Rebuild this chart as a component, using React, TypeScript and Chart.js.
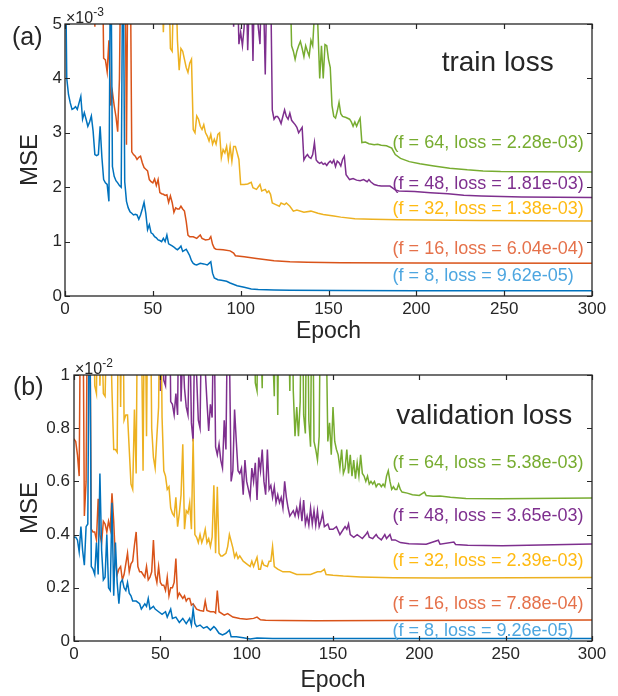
import React, { useEffect, useRef } from "react";
import { Chart, registerables } from "chart.js";

Chart.register(...registerables);

// ---------- data ----------
const FILTERS = [8, 16, 32, 48, 64];
const X_TICKS = [0, 50, 100, 150, 200, 250, 300];
const TRAIN_Y_TICKS = [0, 1, 2, 3, 4, 5];
const VAL_Y_TICKS = [0, 0.2, 0.4, 0.6, 0.8, 1];
const TRAIN_FINAL = ["9.62e-05", "6.04e-04", "1.38e-03", "1.81e-03", "2.28e-03"];
const VAL_FINAL = ["9.26e-05", "7.88e-04", "2.39e-03", "3.65e-03", "5.38e-03"];

// train loss, [epoch, MSE x 1e-3]
const trainF8: number[][] = [[0,7],[1,4.0],[2,3.7],[3,3.55],[4,3.43],[5,3.45],[6,3.48],[7,3.43],[8,3.55],[9,3.67],[10,3.25],[11,3.37],[12,3.25],[13,3.12],[14,3.2],[15,3.31],[16,3.03],[17,2.6],[18,2.58],[19,2.6],[20,3.12],[21,2.55],[22,2.14],[23,2.08],[24,2.05],[25,1.74],[26,7],[27,2.38],[28,2.2],[29,2.12],[30,2.08],[31,2.03],[32,2.0],[33,7],[34,2.1],[35,1.74],[36,1.62],[37,1.55],[38,1.52],[39,1.49],[40,1.5],[41,1.49],[42,1.41],[43,1.49],[44,1.6],[45,1.72],[46,1.52],[47,1.22],[48,1.31],[49,1.16],[50,1.14],[51,1.09],[52,1.07],[53,1.03],[54,1.02],[55,1.0],[56,1.06],[57,1.0],[58,1.12],[59,0.96],[60,0.94],[61,0.92],[62,0.9],[63,0.87],[64,0.85],[65,0.88],[66,0.92],[67,0.82],[68,0.84],[69,0.86],[70,0.8],[71,0.74],[72,0.65],[73,0.6],[74,0.58],[75,0.57],[77,0.6],[79,0.59],[81,0.57],[82,0.6],[83,0.63],[84,0.42],[85,0.33],[87,0.3],[89,0.29],[92,0.27],[94,0.24],[98,0.19],[102,0.16],[106,0.13],[110,0.12],[119,0.11],[128,0.105],[157,0.1],[200,0.098],[300,0.0962]];
const trainF16: number[][] = [[0,9],[16,7],[17,4.95],[18,7],[21,7],[22,4.37],[23,4.34],[24,4.12],[25,4.7],[26,3.5],[27,3.75],[28,3.5],[29,3.3],[30,3.02],[31,4.0],[32,7],[34,7],[35,2.78],[36,7],[37,7],[38,2.65],[39,2.6],[40,2.57],[41,2.51],[42,2.55],[43,2.57],[44,2.45],[45,2.36],[46,2.33],[47,2.3],[48,2.14],[49,2.1],[50,2.08],[51,2.15],[52,2.03],[53,2.14],[54,1.9],[55,1.88],[56,1.87],[57,1.85],[58,1.86],[59,1.72],[60,1.84],[61,1.72],[62,1.54],[63,1.62],[64,1.6],[65,1.6],[66,1.65],[67,1.6],[68,1.56],[69,1.37],[70,1.12],[71,1.09],[73,1.09],[75,1.06],[77,1.12],[78,1.06],[80,1.03],[82,1.04],[83,1.09],[84,0.95],[85,0.88],[86,0.86],[90,0.85],[94,0.83],[96,0.79],[97,0.74],[102,0.72],[109,0.69],[119,0.65],[128,0.63],[138,0.62],[157,0.61],[200,0.606],[300,0.604]];
const trainF32: number[][] = [[0,12],[55,6],[56,4.85],[57,6],[59,6],[60,4.55],[61,4.5],[62,6],[63,6],[64,4.7],[65,4.15],[66,4.55],[67,4.5],[68,4.35],[69,4.2],[70,4.11],[71,4.28],[72,4.35],[73,3.06],[74,3.0],[75,3.31],[76,3.25],[77,3.12],[78,3.06],[79,3.15],[80,3.0],[81,2.94],[82,2.85],[83,2.97],[84,2.79],[85,2.88],[86,2.79],[87,2.97],[88,3.0],[89,2.54],[90,2.69],[91,2.63],[92,2.75],[93,2.51],[94,2.75],[95,2.48],[96,2.75],[97,2.75],[98,2.63],[99,2.51],[100,2.05],[102,2.05],[104,2.06],[106,2.09],[107,1.99],[109,1.96],[111,2.05],[112,1.93],[114,1.96],[115,1.9],[116,1.93],[117,1.87],[118,1.71],[120,1.68],[122,1.65],[123,1.71],[125,1.68],[126,1.71],[128,1.65],[130,1.56],[132,1.58],[136,1.54],[140,1.56],[144,1.52],[147,1.5],[153,1.47],[157,1.45],[165,1.42],[175,1.41],[190,1.4],[236,1.39],[300,1.38]];
const trainF48: number[][] = [[0,15],[95,6],[96,4.95],[97,6],[98,6],[99,4.63],[100,4.85],[101,4.6],[102,4.95],[103,6],[104,4.52],[105,5.5],[106,6],[107,4.32],[108,6],[109,5.5],[110,4.95],[111,4.63],[112,6],[113,5.5],[114,4.07],[115,6],[117,6],[118,3.42],[119,3.25],[120,3.3],[121,3.3],[122,3.25],[123,3.17],[124,3.3],[125,3.42],[126,3.3],[127,3.25],[128,3.36],[129,3.23],[130,3.19],[131,3.15],[132,3.1],[133,3.0],[134,3.05],[135,3.1],[136,2.5],[137,2.56],[138,2.6],[139,2.55],[140,2.53],[141,2.6],[142,2.82],[143,2.5],[144,2.46],[145,2.44],[146,2.46],[147,2.42],[148,2.44],[149,2.4],[150,2.45],[151,2.48],[152,2.44],[153,2.5],[154,2.38],[155,2.48],[156,2.45],[157,2.39],[158,2.51],[159,2.57],[160,2.23],[162,2.14],[164,2.16],[166,2.13],[168,2.12],[170,2.14],[172,2.1],[173,2.14],[174,2.1],[176,2.05],[178,2.03],[180,2.02],[185,2.02],[188,1.95],[190,1.93],[199,1.92],[208,1.9],[218,1.88],[227,1.85],[237,1.84],[260,1.82],[300,1.81]];
const trainF64: number[][] = [[0,20],[128,6],[129,4.6],[130,4.5],[131,4.35],[132,4.5],[133,4.6],[134,4.68],[135,4.55],[136,4.4],[137,4.6],[138,4.5],[139,4.41],[140,4.7],[141,4.6],[142,5.2],[143,6],[144,4.9],[145,4.0],[146,4.6],[147,4.0],[148,4.62],[149,4.6],[150,4.35],[151,4.2],[152,3.5],[153,3.3],[154,3.27],[155,3.4],[156,3.56],[157,3.35],[158,3.3],[160,3.28],[162,3.25],[163,3.2],[164,3.12],[165,3.2],[166,3.12],[167,3.2],[168,3.27],[169,2.82],[171,2.83],[173,2.8],[176,2.78],[178,2.79],[180,2.77],[183,2.76],[186,2.72],[187,2.66],[188,2.6],[191,2.53],[196,2.47],[202,2.43],[210,2.39],[219,2.35],[229,2.32],[238,2.3],[248,2.29],[270,2.285],[300,2.28]];

// validation loss, [epoch, MSE x 1e-2]
const valF8: number[][] = [[0,0.39],[1,0.39],[2,0.38],[3,0.335],[4,0.43],[5,0.34],[6,0.285],[7,0.43],[8,0.44],[9,1.5],[10,0.28],[11,0.27],[12,0.25],[13,0.37],[14,0.25],[15,0.63],[16,0.34],[17,0.23],[18,0.24],[19,0.4],[20,0.2],[21,0.19],[22,0.52],[23,0.17],[24,0.37],[25,0.22],[26,0.14],[27,0.22],[28,0.23],[29,0.2],[30,0.19],[31,0.22],[32,0.18],[33,0.17],[34,0.15],[36,0.15],[38,0.14],[39,0.12],[41,0.14],[42,0.13],[43,0.16],[44,0.12],[46,0.13],[47,0.12],[49,0.11],[51,0.1],[53,0.11],[54,0.09],[56,0.12],[57,0.085],[59,0.09],[61,0.07],[63,0.085],[65,0.065],[67,0.085],[68,0.06],[69,0.12],[70,0.066],[71,0.054],[73,0.06],[75,0.048],[77,0.054],[79,0.041],[81,0.054],[82,0.048],[84,0.029],[86,0.023],[88,0.029],[90,0.041],[91,0.016],[94,0.016],[98,0.012],[102,0.008],[106,0.011],[115,0.0095],[150,0.0093],[300,0.00926]];
const valF16: number[][] = [[0,0.76],[1,0.75],[2,0.7],[3,0.62],[4,1.5],[5,1.5],[6,0.47],[7,0.6],[8,1.5],[9,1.5],[10,0.42],[11,0.41],[12,0.41],[13,0.38],[14,0.535],[15,0.4],[16,0.37],[17,0.45],[18,0.44],[19,0.41],[20,0.45],[21,0.42],[22,0.555],[23,0.45],[24,0.3],[25,0.25],[26,0.27],[27,0.28],[28,0.23],[29,0.25],[30,0.29],[31,0.33],[32,0.26],[33,0.29],[34,0.3],[35,0.36],[36,0.41],[37,0.28],[38,0.26],[39,0.26],[40,0.25],[41,0.24],[42,0.28],[43,0.23],[44,0.24],[45,0.26],[46,0.38],[47,0.25],[48,0.22],[49,0.28],[50,0.22],[51,0.21],[52,0.21],[53,0.19],[54,0.24],[55,0.17],[56,0.2],[57,0.2],[58,0.22],[59,0.31],[60,0.165],[61,0.18],[62,0.17],[63,0.16],[64,0.17],[65,0.15],[66,0.16],[67,0.16],[68,0.135],[69,0.14],[71,0.12],[73,0.115],[75,0.112],[76,0.15],[77,0.115],[79,0.11],[81,0.11],[82,0.105],[83,0.19],[84,0.11],[87,0.097],[89,0.103],[92,0.09],[96,0.085],[100,0.082],[104,0.085],[106,0.09],[108,0.08],[111,0.078],[121,0.077],[140,0.076],[180,0.0775],[300,0.0788]];
const valF32: number[][] = [[0,3],[11,1.5],[12,0.96],[13,0.93],[14,1.5],[15,0.96],[16,1.2],[17,0.93],[18,0.92],[19,1.2],[20,1.5],[21,1.2],[22,0.94],[23,0.72],[24,0.72],[25,0.71],[26,1.5],[27,0.88],[28,1.5],[29,0.83],[30,0.85],[31,0.85],[32,0.72],[33,0.59],[34,0.57],[35,0.87],[36,0.63],[37,1.5],[38,1.5],[39,1.2],[40,0.64],[41,1.5],[42,0.77],[43,1.5],[44,1.5],[45,0.8],[46,0.69],[47,0.65],[48,0.77],[49,0.88],[50,1.5],[51,0.84],[52,0.64],[53,0.62],[54,0.57],[55,0.58],[56,0.5],[57,0.48],[58,0.47],[59,0.54],[60,0.43],[61,0.48],[62,0.55],[63,0.74],[64,0.42],[65,0.49],[66,0.48],[67,0.52],[68,0.42],[69,0.76],[70,0.4],[71,0.39],[72,0.37],[73,0.4],[74,0.37],[75,0.39],[76,0.42],[77,0.37],[78,0.385],[79,0.355],[80,0.39],[81,0.585],[82,0.33],[83,0.58],[84,0.33],[85,0.32],[86,0.32],[88,0.33],[89,0.355],[90,0.4],[92,0.35],[93,0.315],[94,0.33],[95,0.31],[96,0.32],[98,0.3],[100,0.29],[102,0.28],[103,0.3],[104,0.28],[106,0.315],[107,0.27],[108,0.27],[109,0.3],[110,0.285],[112,0.28],[113,0.3],[114,0.3],[115,0.355],[116,0.28],[118,0.27],[121,0.26],[125,0.26],[129,0.25],[133,0.25],[137,0.25],[141,0.26],[143,0.26],[145,0.27],[146,0.25],[150,0.247],[156,0.244],[166,0.241],[185,0.238],[212,0.237],[300,0.239]];
const valF48: number[][] = [[0,3],[49,1.5],[50,0.94],[51,1.2],[52,0.98],[53,0.96],[54,1.2],[55,1.5],[56,0.9],[57,0.89],[58,0.85],[59,0.93],[60,0.85],[61,1.5],[62,0.9],[63,1.1],[64,0.95],[65,0.88],[66,0.85],[67,1.2],[68,0.82],[69,0.75],[70,1.2],[71,1.0],[72,0.83],[73,0.8],[74,1.3],[75,1.2],[76,1.02],[77,0.9],[78,0.79],[79,0.89],[80,0.84],[81,1.3],[82,0.73],[83,0.7],[84,0.74],[85,0.68],[86,0.65],[87,0.83],[88,0.72],[89,1.3],[90,1.1],[91,0.6],[92,0.64],[93,0.87],[94,0.75],[95,0.64],[96,0.63],[97,0.65],[98,0.55],[99,0.68],[100,0.6],[101,0.57],[102,0.54],[103,0.65],[104,0.6],[105,0.67],[106,0.53],[107,0.69],[108,0.64],[109,0.72],[110,0.6],[111,0.55],[112,0.72],[113,0.57],[114,0.585],[115,0.54],[116,0.58],[117,0.52],[118,0.55],[119,0.52],[120,0.54],[121,0.5],[122,0.6],[123,0.54],[124,0.5],[125,0.47],[126,0.48],[127,0.49],[128,0.47],[129,0.5],[130,0.47],[131,0.52],[132,0.45],[133,0.53],[134,0.44],[135,0.47],[136,0.435],[137,0.5],[138,0.44],[139,0.49],[140,0.435],[141,0.49],[142,0.43],[143,0.45],[144,0.48],[145,0.43],[146,0.435],[147,0.44],[148,0.42],[150,0.42],[152,0.43],[154,0.4],[156,0.42],[157,0.43],[158,0.42],[159,0.44],[160,0.4],[162,0.39],[164,0.4],[166,0.39],[167,0.385],[169,0.4],[170,0.41],[171,0.39],[173,0.385],[175,0.4],[176,0.39],[178,0.38],[180,0.4],[181,0.385],[183,0.4],[184,0.38],[186,0.38],[189,0.37],[194,0.366],[204,0.364],[211,0.379],[212,0.364],[220,0.372],[221,0.363],[228,0.36],[248,0.358],[300,0.365]];
const valF64: number[][] = [[0,10],[104,1.5],[105,0.97],[106,0.94],[107,1.5],[108,1.2],[109,0.95],[110,1.5],[111,1.3],[112,1.5],[113,1.2],[114,1.5],[115,1.1],[116,0.92],[117,1.5],[118,0.85],[119,1.5],[120,1.3],[121,1.5],[122,1.2],[123,1.5],[124,1.3],[125,0.94],[126,1.5],[127,0.94],[128,0.77],[129,0.88],[130,0.77],[131,0.9],[132,1.5],[133,0.85],[134,0.78],[135,1.5],[136,0.83],[137,0.73],[138,1.5],[139,0.75],[140,0.72],[141,0.68],[142,0.77],[143,1.5],[144,1.3],[145,1.5],[146,1.2],[147,0.75],[148,0.82],[149,0.7],[150,0.88],[151,0.75],[152,0.72],[153,0.7],[154,0.65],[155,0.72],[156,0.63],[157,0.65],[158,0.72],[159,0.63],[160,0.7],[161,0.62],[162,0.68],[163,0.61],[164,0.67],[165,0.62],[166,0.7],[167,0.63],[168,0.62],[169,0.6],[170,0.62],[171,0.59],[172,0.6],[173,0.59],[174,0.6],[175,0.58],[176,0.59],[177,0.59],[178,0.58],[179,0.59],[180,0.58],[181,0.62],[182,0.64],[183,0.6],[184,0.57],[185,0.58],[186,0.57],[187,0.57],[188,0.59],[189,0.57],[190,0.56],[193,0.556],[196,0.55],[200,0.547],[203,0.56],[204,0.547],[208,0.544],[212,0.545],[218,0.54],[227,0.536],[247,0.535],[300,0.538]];

// ---------- styling ----------
const FONT = '"Liberation Sans", Arial, Helvetica, sans-serif';
const AXIS_COLOR = "#262626";
const LINE_COLORS = ["#0072BD", "#D95319", "#EDB120", "#7E2F8E", "#77AC30"];
const LABEL_COLORS = ["#4DA6E0", "#E5714A", "#FFBA12", "#7E2F8E", "#77AC30"];

type PanelCfg = {
  series: number[][][];
  finals: string[];
  yMax: number;
  yTicks: number[];
  exponent: string;
  panelLabel: string;
  title: string;
  titlePos: [number, number];
  labelX: number;
  labelY: number[];
  height: number;
  padTop: number;
  xAxisHeight: number;
  yAxisWidth: number;
  yTickPad: number;
  xTitlePad: number;
  panelLabelOffset: [number, number];
};

const panels: PanelCfg[] = [
  {
    series: [trainF8, trainF16, trainF32, trainF48, trainF64],
    finals: TRAIN_FINAL,
    yMax: 5,
    yTicks: TRAIN_Y_TICKS,
    exponent: "-3",
    panelLabel: "(a)",
    title: "train loss",
    titlePos: [214.4, 4.13],
    labelX: 186.5,
    labelY: [0.276, 0.77, 1.51, 1.97, 2.72],
    height: 350,
    padTop: 24,
    xAxisHeight: 54,
    yAxisWidth: 65,
    yTickPad: 3,
    xTitlePad: 4.7,
    panelLabelOffset: [-53, 20.7],
  },
  {
    series: [valF8, valF16, valF32, valF48, valF64],
    finals: VAL_FINAL,
    yMax: 1,
    yTicks: VAL_Y_TICKS,
    exponent: "-2",
    panelLabel: "(b)",
    title: "validation loss",
    titlePos: [186.7, 0.817],
    labelX: 184.4,
    labelY: [0.019, 0.12, 0.281, 0.45, 0.649],
    height: 346,
    padTop: 25,
    xAxisHeight: 55,
    yAxisWidth: 74,
    yTickPad: 4,
    xTitlePad: 2,
    panelLabelOffset: [-61, 19.8],
  },
];

function buildConfig(p: PanelCfg): any {
  const decor = {
    id: "decor",
    afterDraw(chart: any) {
      const { ctx, chartArea: a, scales } = chart;
      const xs = scales.x;
      const ys = scales.y;
      ctx.save();
      // box
      ctx.strokeStyle = AXIS_COLOR;
      ctx.lineWidth = 1.3;
      ctx.strokeRect(a.left, a.top, a.right - a.left, a.bottom - a.top);
      // inward tick marks on all sides
      ctx.lineWidth = 1.2;
      ctx.beginPath();
      const TL = 5;
      X_TICKS.forEach((v) => {
        const px = Math.round(xs.getPixelForValue(v)) + 0.5;
        ctx.moveTo(px, a.bottom);
        ctx.lineTo(px, a.bottom - TL);
        ctx.moveTo(px, a.top);
        ctx.lineTo(px, a.top + TL);
      });
      p.yTicks.forEach((v) => {
        const py = Math.round(ys.getPixelForValue(v)) + 0.5;
        ctx.moveTo(a.left, py);
        ctx.lineTo(a.left + TL, py);
        ctx.moveTo(a.right, py);
        ctx.lineTo(a.right - TL, py);
      });
      ctx.stroke();
      // annotations
      ctx.textAlign = "left";
      ctx.textBaseline = "alphabetic";
      ctx.font = `18px ${FONT}`;
      FILTERS.forEach((f, i) => {
        ctx.fillStyle = LABEL_COLORS[i];
        ctx.fillText(
          `(f = ${f}, loss = ${p.finals[i]})`,
          xs.getPixelForValue(p.labelX),
          ys.getPixelForValue(p.labelY[i])
        );
      });
      // title inside plot
      ctx.fillStyle = AXIS_COLOR;
      ctx.font = `28px ${FONT}`;
      ctx.fillText(p.title, xs.getPixelForValue(p.titlePos[0]), ys.getPixelForValue(p.titlePos[1]));
      // panel label
      ctx.font = `25px ${FONT}`;
      ctx.fillText(p.panelLabel, a.left + p.panelLabelOffset[0], a.top + p.panelLabelOffset[1]);
      // exponent
      ctx.font = `16px ${FONT}`;
      const base = "\u00d710";
      ctx.fillText(base, a.left + 1, a.top - 1);
      const w = ctx.measureText(base).width;
      ctx.font = `12px ${FONT}`;
      ctx.fillText(p.exponent, a.left + 1 + w, a.top - 8);
      ctx.restore();
    },
  };

  return {
    type: "line",
    data: {
      datasets: p.series.map((s, i) => ({
        label: `f = ${FILTERS[i]}`,
        data: s.map(([x, y]) => ({ x, y })),
        borderColor: LINE_COLORS[i],
        backgroundColor: LINE_COLORS[i],
        borderWidth: 1.5,
        pointRadius: 0,
        tension: 0,
        fill: false,
      })),
    },
    options: {
      responsive: false,
      animation: false,
      devicePixelRatio: 1,
      events: [],
      layout: { padding: { left: 0, right: 26, top: p.padTop, bottom: 0 } },
      plugins: {
        legend: { display: false },
        tooltip: { enabled: false },
        title: { display: false },
      },
      scales: {
        x: {
          type: "linear",
          min: 0,
          max: 300,
          afterBuildTicks: (s: any) => {
            s.ticks = X_TICKS.map((value) => ({ value }));
          },
          afterFit: (s: any) => {
            s.height = p.xAxisHeight;
          },
          grid: { display: false, drawTicks: false },
          border: { display: false },
          ticks: {
            color: AXIS_COLOR,
            font: { family: FONT, size: 17 },
            padding: 3,
            maxRotation: 0,
            autoSkip: false,
            callback: (v: any) => String(v),
          },
          title: {
            display: true,
            text: "Epoch",
            color: AXIS_COLOR,
            font: { family: FONT, size: 23 },
            padding: { top: 0, bottom: p.xTitlePad },
          },
        },
        y: {
          type: "linear",
          min: 0,
          max: p.yMax,
          afterBuildTicks: (s: any) => {
            s.ticks = p.yTicks.map((value) => ({ value }));
          },
          afterFit: (s: any) => {
            s.width = p.yAxisWidth;
          },
          grid: { display: false, drawTicks: false },
          border: { display: false },
          ticks: {
            color: AXIS_COLOR,
            font: { family: FONT, size: 17 },
            padding: p.yTickPad,
            callback: (v: any) => String(Math.round(Number(v) * 10) / 10),
          },
          title: {
            display: true,
            text: "MSE",
            color: AXIS_COLOR,
            font: { family: FONT, size: 24 },
            padding: { top: 16, bottom: 0 },
          },
        },
      },
    },
    plugins: [decor],
  };
}

function Panel({ cfg, top }: { cfg: PanelCfg; top: number }) {
  const ref = useRef<HTMLCanvasElement>(null);
  useEffect(() => {
    const chart = new Chart(ref.current as HTMLCanvasElement, buildConfig(cfg));
    return () => chart.destroy();
  }, [cfg]);
  return (
    <canvas
      ref={ref}
      width={618}
      height={cfg.height}
      style={{ position: "absolute", left: 0, top, width: 618, height: cfg.height }}
    />
  );
}

export default function App() {
  return (
    <div style={{ position: "absolute", left: 0, top: 0, width: 618, height: 696, background: "#fff" }}>
      <Panel cfg={panels[0]} top={0} />
      <Panel cfg={panels[1]} top={350} />
    </div>
  );
}
